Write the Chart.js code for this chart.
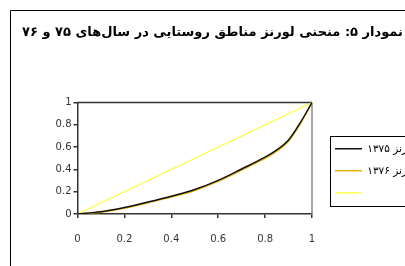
<!DOCTYPE html>
<html>
<head>
<meta charset="utf-8">
<script src="https://cdn.jsdelivr.net/npm/chart.js@4.4.0/dist/chart.umd.min.js"></script>
<style>
  html, body { margin: 0; padding: 0; overflow: hidden; background: #fff; }
  #wrap { position: absolute; left: 0; top: 0; }
</style>
</head>
<body>
<div id="wrap"><canvas id="lorenzChart" width="440" height="266" dir="rtl"></canvas></div>
<script>
const titleText = 'نمودار ۵: منحنی لورنز مناطق روستایی در سال‌های ۷۵ و ۷۶';
const seriesLabels = ['لورنز ۱۳۷۵', 'لورنز ۱۳۷۶', ''];

// cumulative share of population (x) and of income (y)
const popShare = [0, 0.1, 0.2, 0.3, 0.4, 0.5, 0.6, 0.7, 0.8, 0.85, 0.9, 0.95, 1];
const lorenz1375 = [0, 0.02, 0.058, 0.107, 0.16, 0.22, 0.302, 0.404, 0.51, 0.575, 0.665, 0.82, 1];
const lorenz1376 = [0, 0.016, 0.052, 0.1, 0.152, 0.211, 0.293, 0.394, 0.499, 0.564, 0.654, 0.81, 1];
const equalityX = [0, 1];
const equalityY = [0, 1];

const tickLabels = ['0', '0.2', '0.4', '0.6', '0.8', '1'];

const toPoints = (xs, ys) => xs.map((x, i) => ({ x: x, y: ys[i] }));

const framePlugin = {
  id: 'frame',
  afterLayout(chart) {
    // park the legend just right of the plot; the window clips the rest
    const lg = chart.legend;
    const area = chart.chartArea;
    lg.left = area.right + 11.5;
    lg.right = lg.left + 300;
    lg.top = area.top + 29.5;
    lg.bottom = lg.top + 120;
  },
  beforeDraw(chart) {
    const ctx = chart.ctx;
    ctx.save();
    ctx.strokeStyle = '#000';
    ctx.lineWidth = 1;
    ctx.beginPath();
    ctx.moveTo(10.5, chart.height);
    ctx.lineTo(10.5, 10.5);
    ctx.lineTo(chart.width, 10.5);
    ctx.stroke();
    ctx.restore();
  },
  beforeDatasetsDraw(chart) {
    const { ctx, chartArea: a } = chart;
    ctx.save();
    ctx.lineWidth = 1.5;
    ctx.strokeStyle = '#333';
    ctx.beginPath();
    ctx.moveTo(a.left, a.top);
    ctx.lineTo(a.right, a.top);
    ctx.stroke();
    ctx.strokeStyle = '#888';
    ctx.beginPath();
    ctx.moveTo(a.right, a.top);
    ctx.lineTo(a.right, a.bottom);
    ctx.stroke();
    ctx.restore();
  },
  afterDraw(chart) {
    const ctx = chart.ctx;
    const lg = chart.legend;
    ctx.save();
    ctx.strokeStyle = '#000';
    ctx.lineWidth = 1;
    ctx.strokeRect(Math.round(lg.left + 6) + 0.5, Math.round(lg.top + 4) + 0.5, 200, 70);
    ctx.restore();
  }
};

const ctx = document.getElementById('lorenzChart').getContext('2d');
new Chart(ctx, {
  type: 'line',
  data: {
    datasets: [{
      label: seriesLabels[0],
      data: toPoints(popShare, lorenz1375),
      borderColor: '#111',
      backgroundColor: '#111',
      borderWidth: 1.5,
      pointRadius: 0,
      pointStyle: 'line',
      tension: 0.35
    }, {
      label: seriesLabels[1],
      data: toPoints(popShare, lorenz1376),
      borderColor: '#e8b400',
      backgroundColor: '#f5d54a',
      borderWidth: 1.5,
      pointRadius: 0,
      pointStyle: 'line',
      tension: 0.35
    }, {
      label: seriesLabels[2],
      data: toPoints(equalityX, equalityY),
      borderColor: '#ffff00',
      backgroundColor: '#ffff00',
      borderWidth: 1,
      pointRadius: 0,
      pointStyle: 'line'
    }]
  },
  options: {
    responsive: false,
    animation: false,
    layout: { padding: { left: 22, right: 28, top: 0, bottom: 12 } },
    plugins: {
      title: {
        display: true,
        text: titleText,
        align: 'start',
        color: '#000',
        font: { family: 'DejaVu Sans', size: 13, weight: 'bold' },
        padding: { top: 25, bottom: 62 }
      },
      legend: {
        position: 'right',
        align: 'start',
        maxWidth: 100,
        textDirection: 'rtl',
        labels: {
          usePointStyle: true,
          pointStyleWidth: 27,
          padding: 11.5,
          color: '#000',
          font: { family: 'DejaVu Sans', size: 10.5 }
        }
      },
      tooltip: { enabled: false }
    },
    scales: {
      x: {
        type: 'linear',
        min: 0,
        max: 1,
        afterFit(scale) { scale.height = 40; },
        ticks: {
          stepSize: 0.2,
          padding: 15,
          color: '#333',
          font: { family: 'DejaVu Sans', size: 10 },
          callback: (v, i) => tickLabels[i]
        },
        grid: { drawOnChartArea: false, tickLength: 4, color: '#333', lineWidth: 1.5 },
        border: { color: '#333', width: 1.5 }
      },
      y: {
        type: 'linear',
        min: 0,
        max: 1,
        afterFit(scale) { scale.width = 55.5; },
        ticks: {
          stepSize: 0.2,
          padding: 2,
          color: '#333',
          font: { family: 'DejaVu Sans', size: 10 },
          callback: (v, i) => tickLabels[i]
        },
        grid: { drawOnChartArea: false, tickLength: 4, color: '#333', lineWidth: 1.5 },
        border: { color: '#333', width: 1.5 }
      }
    }
  },
  plugins: [framePlugin]
});
</script>
</body>
</html>
